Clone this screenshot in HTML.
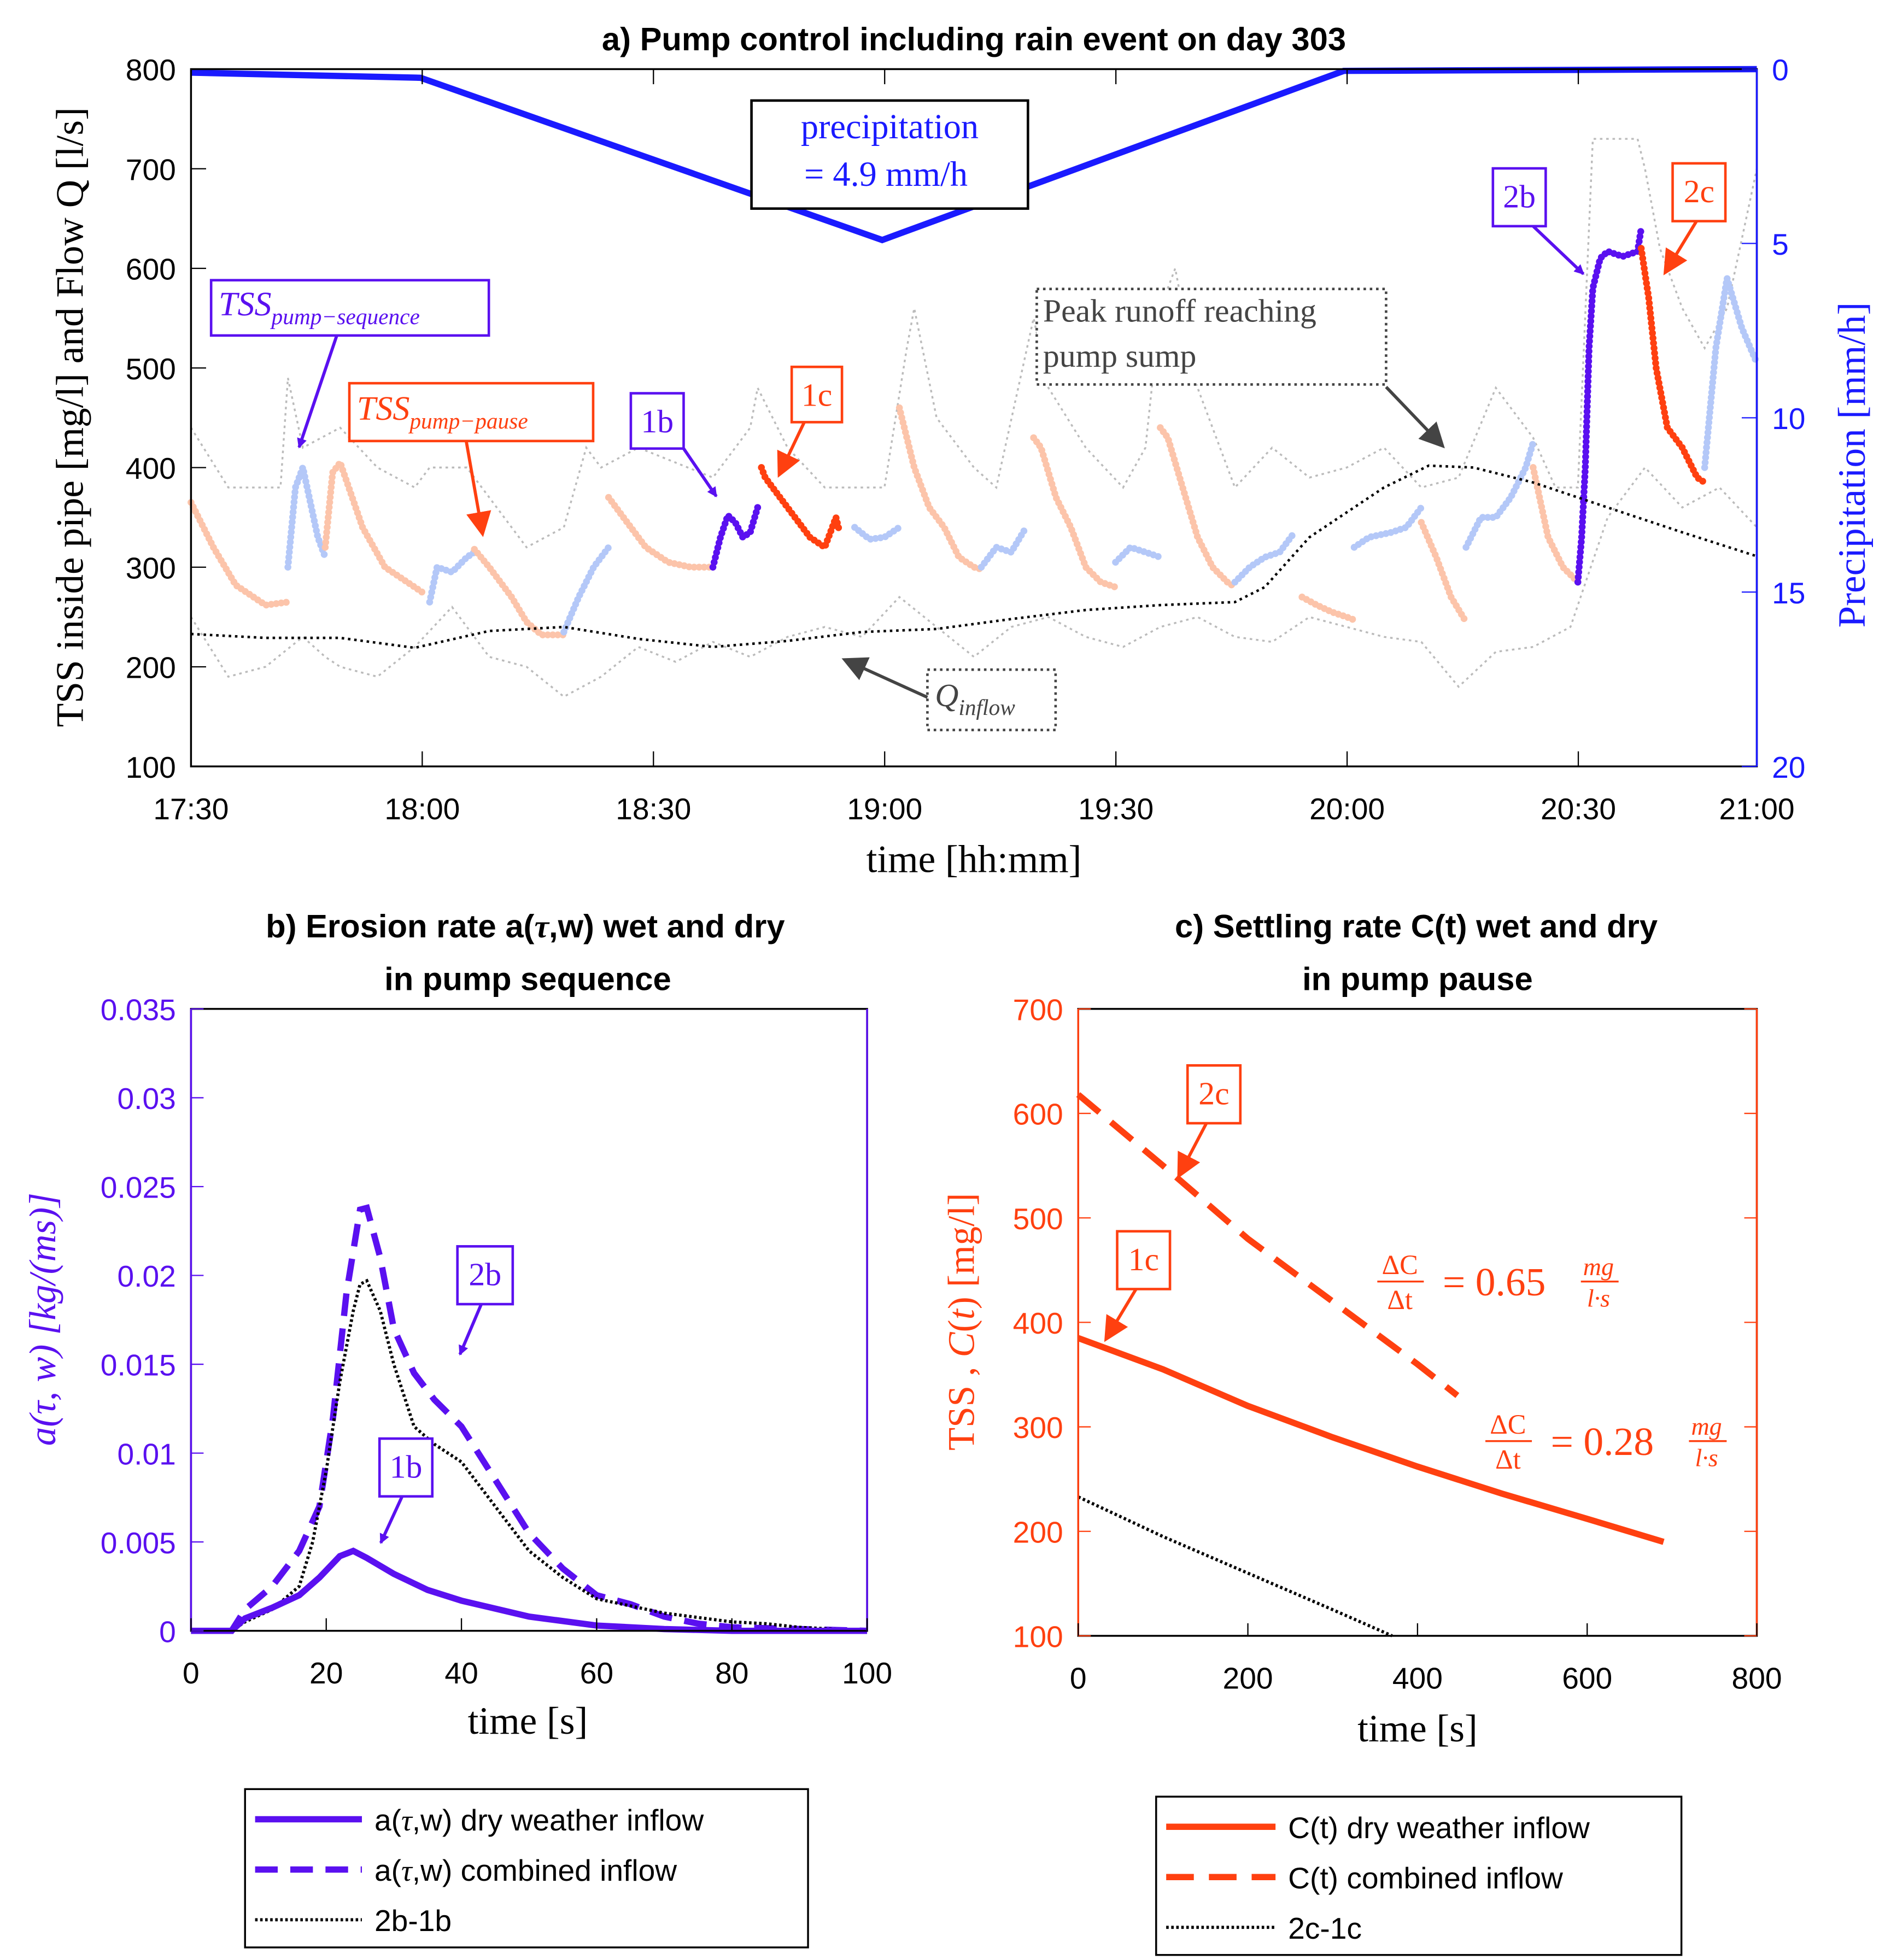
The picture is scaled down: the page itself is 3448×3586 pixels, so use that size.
<!DOCTYPE html>
<html><head><meta charset="utf-8"><style>
html,body{margin:0;padding:0;background:#fff;}
svg{display:block;}
.t{font-family:"Liberation Sans",sans-serif;font-size:24px;}
.s{font-family:"Liberation Serif",serif;}
.ti{font-family:"Liberation Sans",sans-serif;font-weight:bold;font-size:26px;}
</style></head><body>
<svg id="c" width="3448" height="3586" viewBox="0 0 1500 1560" xmlns="http://www.w3.org/2000/svg">
<defs>
<marker id="ab" markerWidth="8" markerHeight="8" refX="7" refY="4" orient="auto" markerUnits="userSpaceOnUse" viewBox="0 0 8 8"><path d="M0,0 L8,4 L0,8 z" fill="#5a10f0"/></marker>
<marker id="ar" markerWidth="8" markerHeight="8" refX="7" refY="4" orient="auto" viewBox="0 0 8 8"><path d="M0,0 L8,4 L0,8 z" fill="#ff4010"/></marker>
<marker id="ag" markerWidth="8" markerHeight="8" refX="7" refY="4" orient="auto" viewBox="0 0 8 8"><path d="M0,0 L8,4 L0,8 z" fill="#444"/></marker>
</defs>
<g id="pa"></g>
<g id="pb"></g>
<g id="pc"></g>
</svg>
<script>
// ---------- Panel a data (time in axis units) ----------
const precipT=[0,30.8,92.7,154.6,210];
const precipV=[0.1,0.25,4.9,0.05,0];
const qInT=[0,10,20,30,40,50,60,70,80,90,100,110,120,130,140,144,150,160,166,172,180,190,200,210];
const qInV=[233,229,229,219,236,240,228,220,226,235,238,248,257,262,265,280,330,380,402,400,385,360,335,311];
const upT=[0,5,12,13,15,20,25,30,32,37,40,45,50,53,55,60,70,75,76,80,85,90,93,96,97,100,105,108,113,115,120,125,128,130,132,135,140,145,150,155,160,165,170,175,180,183,186,188,194,195,197,200,203,206,210];
const upV=[440,380,380,490,420,440,400,380,400,400,370,320,340,420,400,420,390,440,480,420,380,380,380,520,560,450,400,380,550,480,420,380,420,560,600,480,380,420,390,400,420,380,390,480,430,380,380,730,730,700,620,560,520,560,700];
const loT=[0,5,10,15,18,20,25,30,35,40,45,50,55,60,65,70,75,80,85,90,95,100,105,110,115,120,125,130,135,140,145,150,155,160,165,170,175,180,185,190,195,200,205,210];
const loV=[250,190,200,230,210,200,190,220,260,210,200,170,190,220,205,225,210,230,240,230,270,240,210,240,250,230,220,240,250,230,225,250,240,230,225,180,215,220,240,350,400,360,380,340];
const segKind=['p','b','p','b','p','b','p','P','R','b','p','b','p','b','p','b','p','b','p','b','p','P','R','b'];
const segT=[[0,3,6,10,13],[13,14,15,17,18],[18,19,20,23,26,30,31],[32,33,35,37,38],[38,40,43,45,47,50],[50,52,54,56],[56,58,61,64,67,70],[70,71,72,73,74,75,76],[76.5,77,79,81,83,85,86,86.5,87],[89,91,93,95],[95,97,99,101,103,105,106],[106,108,110,112],[113,114,116,118,120,122,124],[124,126,128,130],[130,131,133,135,137,139,140],[140,142,144,146,148],[149,151,153,155,156],[156,158,161,163,165],[165,167,169,171],[171,173,175,177,179,180],[180,182,184,186],[186,186.5,187,187.5,188,189,190,192,194,194.5],[194.5,195.5,196.5,198,200,202,203],[203,204.5,206,208,210]];
const segV=[[365,320,282,262,265],[300,380,400,330,310],[320,395,405,340,300,280,275],[265,300,295,310,315],[318,300,270,245,232,232],[235,270,300,320],[370,350,320,305,300,300],[300,330,352,345,330,335,360],[400,390,370,350,330,320,340,350,335],[340,328,330,340],[460,400,360,340,310,300,298],[300,320,315,340],[430,420,370,340,300,285,280],[305,320,315,310],[440,430,380,330,300,285,280],[285,300,310,315,335],[270,262,255,250,247],[320,330,335,340,360],[345,310,270,245],[320,350,350,370,400,425],[400,330,300,285],[285,330,400,520,580,610,617,612,617,640],[620,570,500,440,420,390,385],[400,520,590,540,505]];
const aTickLabels=['17:30','18:00','18:30','19:00','19:30','20:00','20:30'];
const aTickT=[0,31.01,62.02,93.03,124.04,155.05,186.06];
const aYTicks=[100,200,300,400,500,600,700,800];
const aPTicks=[0,5,10,15,20];
// ---------- Panel b data ----------
const bDryT=[0,6,8,12,16,19,22,24,26,30,35,40,50,60,70,80,100];
const bDryV=[0,0,0.0007,0.0013,0.002,0.003,0.0042,0.0045,0.0041,0.0032,0.0023,0.0017,0.0008,0.0003,0.0001,0,0];
const bComT=[0,6,8,12,16,19,21,23,25,26,28,30,33,36,40,45,50,55,60,65,70,75,80,90,100];
const bComV=[0,0,0.0012,0.0025,0.0045,0.007,0.012,0.019,0.0237,0.0238,0.021,0.017,0.0145,0.013,0.0115,0.0085,0.0055,0.0035,0.002,0.0015,0.0008,0.0004,0.0002,0.0001,0];
const bDifT=[0,6,8,12,16,18,20,22,24,25,26,28,30,33,36,40,45,50,55,60,70,80,85,90,100];
const bDifV=[0,0,0.0005,0.0012,0.0025,0.005,0.009,0.014,0.018,0.0195,0.0197,0.018,0.015,0.0115,0.0105,0.0095,0.007,0.0045,0.003,0.0018,0.001,0.0005,0.0004,0.0002,0];
const bYTicks=[0,0.005,0.01,0.015,0.02,0.025,0.03,0.035];
const bYLabels=['0','0.005','0.01','0.015','0.02','0.025','0.03','0.035'];
const bXTicks=[0,20,40,60,80,100];
// ---------- Panel c data ----------
const cDryT=[0,100,200,300,400,500,600,690];
const cDryV=[385,355,320,290,262,236,212,190];
const cComT=[0,100,200,300,400,447];
const cComV=[618,550,480,420,360,330];
const cDifT=[0,100,200,300,370];
const cDifV=[233,195,160,125,100];
const cYTicks=[100,200,300,400,500,600,700];
const cXTicks=[0,200,400,600,800];

const NS='http://www.w3.org/2000/svg';
function mk(parent,tag,attrs,text){const e=document.createElementNS(NS,tag);for(const k in attrs)e.setAttribute(k,attrs[k]);if(text!==undefined)e.textContent=text;parent.appendChild(e);return e;}
function pts(T,V,fx,fy){return T.map((t,i)=>fx(t).toFixed(1)+','+fy(V[i]).toFixed(1)).join(' ');}

const PUR='#5a10f0',RED='#ff4010',BLU='#1a1aff';
// ===== Panel a =====
const A=document.getElementById('pa');
const ax=t=>152+t*(1246/210), ay=v=>610-(v-100)*(555/700), ap=v=>55+v*(555/20);
let e;
e=mk(A,'polyline',{points:pts(upT,upV,ax,ay),fill:'none',stroke:'#bbb','stroke-width':1.5,'stroke-dasharray':'2 3'});

e=mk(A,'polyline',{points:pts(loT,loV,ax,ay),fill:'none',stroke:'#bbb','stroke-width':1.5,'stroke-dasharray':'2 3'});

const kc={p:'#fcc4aa',b:'#b4c8f8',P:PUR,R:RED};
segT.forEach((T,i)=>{const s=mk(A,'polyline',{points:pts(T,segV[i],ax,ay),fill:'none',stroke:kc[segKind[i]],'stroke-width':5.5,'stroke-linecap':'round','stroke-linejoin':'round','stroke-dasharray':'0 4'});
});
e=mk(A,'polyline',{points:pts(qInT,qInV,ax,ay),fill:'none',stroke:'#000','stroke-width':2,'stroke-dasharray':'2 3'});

e=mk(A,'polyline',{points:pts(precipT,precipV,ax,ap),fill:'none',stroke:BLU,'stroke-width':5});

e=mk(A,'rect',{x:152,y:55,width:1246,height:555,fill:'none',stroke:'#000','stroke-width':1.5});

mk(A,'line',{x1:1398,y1:55,x2:1398,y2:610,stroke:BLU,'stroke-width':1.5});
aTickLabels.forEach((l,i)=>{const x=ax(aTickT[i]);mk(A,'line',{x1:x,y1:610,x2:x,y2:598,stroke:'#000'});mk(A,'line',{x1:x,y1:55,x2:x,y2:67,stroke:'#000'});
const t=mk(A,'text',{x:x,y:652,'text-anchor':'middle',class:'t'},l);});
e=mk(A,'text',{x:1398,y:652,'text-anchor':'middle',class:'t'},'21:00');

aYTicks.forEach(v=>{const y=ay(v);mk(A,'line',{x1:152,y1:y,x2:164,y2:y,stroke:'#000'});
const t=mk(A,'text',{x:140,y:y+9,'text-anchor':'end',class:'t'},v);});
aPTicks.forEach(v=>{const y=ap(v);mk(A,'line',{x1:1398,y1:y,x2:1386,y2:y,stroke:BLU});
const t=mk(A,'text',{x:1410,y:y+9,class:'t',fill:BLU},v);});
A.insertAdjacentHTML('beforeend',`
<text x="775" y="40" text-anchor="middle" class="ti">a) Pump control including rain event on day 303</text>
<text transform="translate(66,332) rotate(-90)" text-anchor="middle" class="s" font-size="31">TSS inside pipe [mg/l] and Flow Q [l/s]</text>
<text transform="translate(1484,370) rotate(-90)" text-anchor="middle" class="s" font-size="31" fill="${BLU}">Precipitation [mm/h]</text>
<text x="775" y="694" text-anchor="middle" class="s" font-size="31">time [hh:mm]</text>
<g><rect x="598" y="80" width="220" height="86" fill="#fff" stroke="#000" stroke-width="2"/>
<text x="708" y="110" text-anchor="middle" class="s" font-size="28" fill="${BLU}">precipitation</text>
<text x="705" y="148" text-anchor="middle" class="s" font-size="28" fill="${BLU}">= 4.9 mm/h</text></g>
<g><rect x="168" y="223" width="221" height="44" fill="#fff" stroke="${PUR}" stroke-width="2"/>
<text x="174" y="251" class="s" font-style="italic" font-size="27" fill="${PUR}">TSS<tspan font-size="18" dy="7">pump−sequence</tspan></text>
<line x1="268" y1="267" x2="238" y2="356" stroke="${PUR}" stroke-width="2.5" marker-end="url(#ab)"/></g>
<g><rect x="278" y="305" width="194" height="46" fill="#fff" stroke="${RED}" stroke-width="2"/>
<text x="284" y="334" class="s" font-style="italic" font-size="27" fill="${RED}">TSS<tspan font-size="18" dy="7">pump−pause</tspan></text>
<line x1="371" y1="351" x2="384" y2="425" stroke="${RED}" stroke-width="2.5" marker-end="url(#ar)"/></g>
<g><rect x="502" y="313" width="42" height="44" fill="#fff" stroke="${PUR}" stroke-width="2"/>
<text x="523" y="344" text-anchor="middle" class="s" font-size="26" fill="${PUR}">1b</text>
<line x1="544" y1="357" x2="570" y2="395" stroke="${PUR}" stroke-width="2.5" marker-end="url(#ab)"/></g>
<g><rect x="630" y="292" width="40" height="44" fill="#fff" stroke="${RED}" stroke-width="2"/>
<text x="650" y="323" text-anchor="middle" class="s" font-size="26" fill="${RED}">1c</text>
<line x1="640" y1="336" x2="620" y2="378" stroke="${RED}" stroke-width="2.5" marker-end="url(#ar)"/></g>
<g><rect x="1188" y="134" width="42" height="46" fill="#fff" stroke="${PUR}" stroke-width="2"/>
<text x="1209" y="165" text-anchor="middle" class="s" font-size="26" fill="${PUR}">2b</text>
<line x1="1220" y1="180" x2="1260" y2="218" stroke="${PUR}" stroke-width="2.5" marker-end="url(#ab)"/></g>
<g><rect x="1331" y="130" width="42" height="46" fill="#fff" stroke="${RED}" stroke-width="2"/>
<text x="1352" y="161" text-anchor="middle" class="s" font-size="26" fill="${RED}">2c</text>
<line x1="1350" y1="176" x2="1325" y2="217" stroke="${RED}" stroke-width="2.5" marker-end="url(#ar)"/></g>
<g><rect x="825" y="230" width="278" height="76" fill="#fff" stroke="#444" stroke-width="2" stroke-dasharray="2 3"/>
<text x="830" y="256" class="s" font-size="26" fill="#444">Peak runoff reaching</text>
<text x="830" y="292" class="s" font-size="26" fill="#444">pump sump</text>
<line x1="1103" y1="308" x2="1148" y2="355" stroke="#444" stroke-width="2.5" marker-end="url(#ag)"/></g>
<g><rect x="738" y="533" width="102" height="48" fill="#fff" stroke="#444" stroke-width="2" stroke-dasharray="2 3"/>
<text x="744" y="562" class="s" font-style="italic" font-size="26" fill="#444">Q<tspan font-size="18" dy="7">inflow</tspan></text>
<line x1="738" y1="555" x2="672" y2="525" stroke="#444" stroke-width="2.5" marker-end="url(#ag)"/></g>
`);

// ===== Panel b =====
const B=document.getElementById('pb');
const bx=t=>152+t*5.38, by=v=>1298-v*(495/0.035);
e=mk(B,'polyline',{points:pts(bComT,bComV,bx,by),fill:'none',stroke:PUR,'stroke-width':5,'stroke-dasharray':'18 10'});

e=mk(B,'polyline',{points:pts(bDifT,bDifV,bx,by),fill:'none',stroke:'#000','stroke-width':2.5,'stroke-dasharray':'2 2'});

e=mk(B,'polyline',{points:pts(bDryT,bDryV,bx,by),fill:'none',stroke:PUR,'stroke-width':5});

mk(B,'rect',{x:152,y:803,width:538,height:495,fill:'none',stroke:'#000','stroke-width':1.5});
mk(B,'line',{x1:152,y1:803,x2:152,y2:1298,stroke:PUR,'stroke-width':1.5});
mk(B,'line',{x1:690,y1:803,x2:690,y2:1298,stroke:PUR,'stroke-width':1.5});
bYTicks.forEach((v,i)=>{const y=by(v);mk(B,'line',{x1:152,y1:y,x2:162,y2:y,stroke:PUR});
const t=mk(B,'text',{x:140,y:y+9,'text-anchor':'end',class:'t',fill:PUR},bYLabels[i]);});
bXTicks.forEach(v=>{const x=bx(v);mk(B,'line',{x1:x,y1:1298,x2:x,y2:1288,stroke:'#000'});
const t=mk(B,'text',{x:x,y:1340,'text-anchor':'middle',class:'t'},v);});
B.insertAdjacentHTML('beforeend',`
<text x="418" y="746" text-anchor="middle" class="ti">b) Erosion rate a(<tspan font-family="Liberation Serif" font-style="italic">τ</tspan>,w) wet and dry</text>
<text x="420" y="788" text-anchor="middle" class="ti">in pump sequence</text>
<text transform="translate(44,1050) rotate(-90)" text-anchor="middle" class="s" font-style="italic" font-size="30" fill="${PUR}">a(τ, w)  [kg/(ms)]</text>
<text x="420" y="1380" text-anchor="middle" class="s" font-size="31">time [s]</text>
<g><rect x="364" y="992" width="44" height="46" fill="#fff" stroke="${PUR}" stroke-width="2"/>
<text x="386" y="1023" text-anchor="middle" class="s" font-size="26" fill="${PUR}">2b</text>
<line x1="383" y1="1038" x2="366" y2="1078" stroke="${PUR}" stroke-width="2.5" marker-end="url(#ab)"/></g>
<g><rect x="302" y="1145" width="42" height="46" fill="#fff" stroke="${PUR}" stroke-width="2"/>
<text x="323" y="1176" text-anchor="middle" class="s" font-size="26" fill="${PUR}">1b</text>
<line x1="320" y1="1191" x2="303" y2="1228" stroke="${PUR}" stroke-width="2.5" marker-end="url(#ab)"/></g>
<g><rect x="195" y="1424" width="448" height="126" fill="#fff" stroke="#000" stroke-width="1.5"/>
<line x1="203" y1="1448" x2="288" y2="1448" stroke="${PUR}" stroke-width="5"/>
<text x="298" y="1457" class="t" font-size="26">a(<tspan font-family="Liberation Serif" font-style="italic">τ</tspan>,w) dry weather inflow</text>
<line x1="203" y1="1488" x2="288" y2="1488" stroke="${PUR}" stroke-width="5" stroke-dasharray="18 10"/>
<text x="298" y="1497" class="t" font-size="26">a(<tspan font-family="Liberation Serif" font-style="italic">τ</tspan>,w) combined inflow</text>
<line x1="203" y1="1528" x2="288" y2="1528" stroke="#000" stroke-width="2.5" stroke-dasharray="2 2"/>
<text x="298" y="1537" class="t" font-size="26">2b-1b</text></g>
`);

// ===== Panel c =====
const C=document.getElementById('pc');
const cx=t=>858+t*(540/800), cy=v=>1302-(v-100)*(499/600);
e=mk(C,'polyline',{points:pts(cComT,cComV,cx,cy),fill:'none',stroke:RED,'stroke-width':5,'stroke-dasharray':'22 12'});

e=mk(C,'polyline',{points:pts(cDryT,cDryV,cx,cy),fill:'none',stroke:RED,'stroke-width':5});

e=mk(C,'polyline',{points:pts(cDifT,cDifV,cx,cy),fill:'none',stroke:'#000','stroke-width':2.5,'stroke-dasharray':'2 2'});

mk(C,'rect',{x:858,y:803,width:540,height:499,fill:'none',stroke:'#000','stroke-width':1.5});
mk(C,'line',{x1:858,y1:803,x2:858,y2:1302,stroke:RED,'stroke-width':1.5});
mk(C,'line',{x1:1398,y1:803,x2:1398,y2:1302,stroke:RED,'stroke-width':1.5});
cYTicks.forEach(v=>{const y=cy(v);mk(C,'line',{x1:858,y1:y,x2:868,y2:y,stroke:RED});mk(C,'line',{x1:1398,y1:y,x2:1388,y2:y,stroke:RED});
const t=mk(C,'text',{x:846,y:y+9,'text-anchor':'end',class:'t',fill:RED},v);});
cXTicks.forEach(v=>{const x=cx(v);mk(C,'line',{x1:x,y1:1302,x2:x,y2:1292,stroke:'#000'});
const t=mk(C,'text',{x:x,y:1344,'text-anchor':'middle',class:'t'},v);});
C.insertAdjacentHTML('beforeend',`
<text x="1127" y="746" text-anchor="middle" class="ti">c) Settling rate C(t) wet and dry</text>
<text x="1128" y="788" text-anchor="middle" class="ti">in pump pause</text>
<text transform="translate(775,1052) rotate(-90)" text-anchor="middle" class="s" font-size="30" fill="${RED}">TSS , <tspan font-style="italic">C</tspan>(<tspan font-style="italic">t</tspan>) [mg/l]</text>
<text x="1128" y="1386" text-anchor="middle" class="s" font-size="31">time [s]</text>
<g><rect x="945" y="848" width="42" height="46" fill="#fff" stroke="${RED}" stroke-width="2"/>
<text x="966" y="879" text-anchor="middle" class="s" font-size="26" fill="${RED}">2c</text>
<line x1="960" y1="894" x2="938" y2="936" stroke="${RED}" stroke-width="2.5" marker-end="url(#ar)"/></g>
<g><rect x="889" y="980" width="42" height="46" fill="#fff" stroke="${RED}" stroke-width="2"/>
<text x="910" y="1011" text-anchor="middle" class="s" font-size="26" fill="${RED}">1c</text>
<line x1="904" y1="1026" x2="880" y2="1066" stroke="${RED}" stroke-width="2.5" marker-end="url(#ar)"/></g>
<g class="s" fill="${RED}" font-style="italic">
<text x="1114" y="1014" text-anchor="middle" font-size="22" font-style="normal">ΔC</text><line x1="1096" y1="1020" x2="1133" y2="1020" stroke="${RED}" stroke-width="1.5"/>
<text x="1114" y="1042" text-anchor="middle" font-size="22" font-style="normal">Δt</text>
<text x="1148" y="1031" font-size="32" font-style="normal">=  0.65</text>
<text x="1272" y="1015" text-anchor="middle" font-size="20">mg</text><line x1="1258" y1="1020" x2="1288" y2="1020" stroke="${RED}" stroke-width="1.5"/><text x="1272" y="1040" text-anchor="middle" font-size="20">l·s</text></g>
<g class="s" fill="${RED}" font-style="italic">
<text x="1200" y="1141" text-anchor="middle" font-size="22" font-style="normal">ΔC</text><line x1="1182" y1="1147" x2="1219" y2="1147" stroke="${RED}" stroke-width="1.5"/>
<text x="1200" y="1169" text-anchor="middle" font-size="22" font-style="normal">Δt</text>
<text x="1234" y="1158" font-size="32" font-style="normal">=  0.28</text>
<text x="1358" y="1142" text-anchor="middle" font-size="20">mg</text><line x1="1344" y1="1147" x2="1374" y2="1147" stroke="${RED}" stroke-width="1.5"/><text x="1358" y="1167" text-anchor="middle" font-size="20">l·s</text></g>
<g><rect x="920" y="1430" width="418" height="126" fill="#fff" stroke="#000" stroke-width="1.5"/>
<line x1="928" y1="1454" x2="1015" y2="1454" stroke="${RED}" stroke-width="5"/>
<text x="1025" y="1463" class="t" font-size="26">C(t) dry weather inflow</text>
<line x1="928" y1="1494" x2="1015" y2="1494" stroke="${RED}" stroke-width="5" stroke-dasharray="22 12"/>
<text x="1025" y="1503" class="t" font-size="26">C(t) combined inflow</text>
<line x1="928" y1="1534" x2="1015" y2="1534" stroke="#000" stroke-width="2.5" stroke-dasharray="2 2"/>
<text x="1025" y="1543" class="t" font-size="26">2c-1c</text></g>
`);
</script>
</body></html>
